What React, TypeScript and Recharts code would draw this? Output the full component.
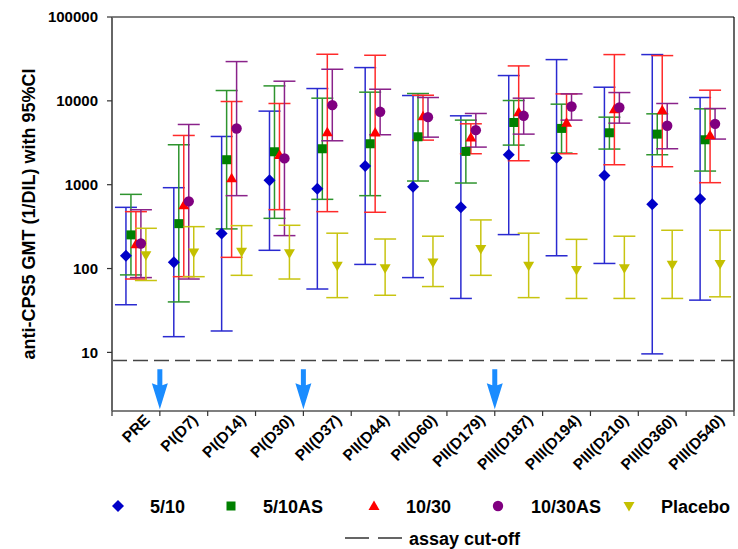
import React from "react";
import { ComposedChart, ErrorBar, ReferenceLine, Scatter, XAxis, YAxis } from "recharts";

const CATEGORIES = ["PRE", "PI(D7)", "PI(D14)", "PI(D30)", "PII(D37)", "PII(D44)", "PII(D60)", "PII(D179)", "PIII(D187)", "PIII(D194)", "PIII(D210)", "PIII(D360)", "PIII(D540)"];

// GMT with lower / upper 95% CI per group
const G510 = [142, 119, 261, 1127, 896, 1668, 947, 537, 2277, 2096, 1291, 583, 675];
const G510_LO = [37, 15.4, 18, 165, 57, 112, 78, 44, 254, 142, 115, 9.6, 42];
const G510_HI = [537, 921, 3760, 7540, 14020, 24930, 11570, 6630, 20030, 31040, 14540, 35630, 10960];

const G510AS = [252, 343, 1985, 2470, 2683, 3078, 3727, 2494, 5520, 4690, 4160, 4010, 3434];
const G510AS_LO = [84, 40, 297, 397, 669, 740, 1106, 1047, 2967, 2382, 2660, 2277, 1454];
const G510AS_HI = [767, 2994, 13280, 15080, 10760, 12690, 12230, 5890, 10090, 9130, 6390, 7000, 8030];

const G1030 = [195, 567, 1190, 2256, 4236, 4200, 6570, 3660, 7330, 5470, 7960, 7740, 3900];
const G1030_LO = [75, 80, 136, 504, 477, 469, 3400, 2340, 1930, 2340, 1730, 1638, 1057];
const G1030_HI = [477, 3866, 9820, 9300, 35950, 34970, 11670, 5325, 26100, 12110, 35630, 34650, 13400];

const G1030AS = [199, 633, 4685, 2058, 8880, 7400, 6390, 4475, 6630, 8560, 8330, 5040, 5320];
const G1030AS_LO = [78, 75, 740, 247, 3340, 3940, 3690, 2808, 4010, 5890, 5420, 2683, 3500];
const G1030AS_HI = [503, 5227, 29400, 17150, 23820, 13760, 10960, 7070, 10760, 12110, 12560, 9300, 8100];

const PLACEBO = [144, 155, 159, 152, 108, 101, 118, 171, 108, 96, 101, 111, 113];
const PLACEBO_LO = [72, 80, 83, 75, 45, 48, 61, 83, 45, 44, 44, 44, 46];
const PLACEBO_HI = [302, 316, 325, 328, 264, 225, 243, 380, 264, 223, 243, 286, 286];

const Y_TICKS = [10, 100, 1000, 10000, 100000];
const CUT_OFF = 8;
const DOSES = [1, 4, 8]; // vaccination given before these visits
const ARROW_TOP = 6.3;

const FONT = '"Liberation Sans", Arial, sans-serif';
const W = 738;
const H = 549;
const LEFT = 112;
const RIGHT = 4;
const HALF = (W - LEFT - RIGHT) / CATEGORIES.length / 2;
const STEP = 5 / 48; // horizontal spread of the groups inside a visit

type Shape = "diamond" | "square" | "triangle" | "circle" | "down";

const SERIES: { name: string; gmt: number[]; lo: number[]; hi: number[]; color: string; bar: string; shape: Shape }[] = [
  { name: "5/10", gmt: G510, lo: G510_LO, hi: G510_HI, color: "#0000c8", bar: "#2a2ad0", shape: "diamond" },
  { name: "5/10AS", gmt: G510AS, lo: G510AS_LO, hi: G510AS_HI, color: "#008000", bar: "#2e942e", shape: "square" },
  { name: "10/30", gmt: G1030, lo: G1030_LO, hi: G1030_HI, color: "#ff0000", bar: "#ff2a2a", shape: "triangle" },
  { name: "10/30AS", gmt: G1030AS, lo: G1030AS_LO, hi: G1030AS_HI, color: "#800080", bar: "#8a228a", shape: "circle" },
  { name: "Placebo", gmt: PLACEBO, lo: PLACEBO_LO, hi: PLACEBO_HI, color: "#c4c000", bar: "#c8c410", shape: "down" },
];

function Marker({ kind, x, y, color }: { kind: Shape; x: number; y: number; color: string }) {
  switch (kind) {
    case "diamond":
      return <polygon points={`${x},${y - 6} ${x + 6},${y} ${x},${y + 6} ${x - 6},${y}`} fill={color} />;
    case "square":
      return <rect x={x - 4.5} y={y - 4.5} width={9} height={9} fill={color} />;
    case "triangle":
      return <polygon points={`${x},${y - 5.5} ${x + 5.5},${y + 4} ${x - 5.5},${y + 4}`} fill={color} />;
    case "circle":
      return <circle cx={x} cy={y} r={5.2} fill={color} />;
    default:
      return <polygon points={`${x - 5.5},${y - 4} ${x + 5.5},${y - 4} ${x},${y + 5.5}`} fill={color} />;
  }
}

function Arrow(props: any) {
  const { cx, cy } = props;
  if (cx == null || cy == null) return <g />;
  const pts = [
    [cx - 2.5, cy], [cx + 2.5, cy], [cx + 2.5, cy + 16], [cx + 8, cy + 14],
    [cx, cy + 40], [cx - 8, cy + 14], [cx - 2.5, cy + 16],
  ].map((p) => p.join(",")).join(" ");
  return <polygon points={pts} fill="#1a8cff" />;
}

function XTick(props: any) {
  const { x, y, payload } = props;
  const label = CATEGORIES[payload.value];
  if (!label) return <g />;
  const ax = x + HALF + 15;
  const ay = y + 3;
  return (
    <text x={ax} y={ay} textAnchor="end" transform={`rotate(-45, ${ax}, ${ay})`}
      style={{ fontFamily: FONT, fontSize: 15.5, fontWeight: "bold" }} fill="#000">
      {label}
    </text>
  );
}

function Legend() {
  const row1 = [
    { i: 0, mx: 118, tx: 150 },
    { i: 1, mx: 231, tx: 263 },
    { i: 2, mx: 374, tx: 406 },
    { i: 3, mx: 498, tx: 531 },
    { i: 4, mx: 629, tx: 661 },
  ];
  const text = { fontFamily: FONT, fontSize: 18, fontWeight: "bold" as const };
  return (
    <svg width={W} height={H} style={{ position: "absolute", left: 0, top: 0, pointerEvents: "none" }}>
      {row1.map(({ i, mx, tx }) => (
        <g key={SERIES[i].name}>
          <Marker kind={SERIES[i].shape} x={mx} y={506} color={SERIES[i].color} />
          <text x={tx} y={512.5} style={text}>{SERIES[i].name}</text>
        </g>
      ))}
      <line x1={345} x2={402} y1={538} y2={538} stroke="#333" strokeWidth={1.5} strokeDasharray="24 9" />
      <text x={409} y={544.5} style={text}>assay cut-off</text>
    </svg>
  );
}

export default function App() {
  const series = SERIES.map((s, k) => ({
    ...s,
    data: s.gmt.map((v, i) => ({ x: i + 0.5 + (k - 2) * STEP, y: v, err: [v - s.lo[i], s.hi[i] - v] })),
  }));
  const arrows = DOSES.map((d) => ({ x: d, y: ARROW_TOP }));
  return (
    <div style={{ position: "absolute", left: 0, top: 0, width: W, height: H, background: "#fff" }}>
      <ComposedChart width={W} height={H} margin={{ top: 17, right: RIGHT, bottom: 0, left: 0 }}>
        <XAxis type="number" dataKey="x" domain={[0, CATEGORIES.length]} ticks={CATEGORIES.map((_, i) => i).concat([CATEGORIES.length])}
          height={138} tick={<XTick />} tickSize={5} interval={0} allowDataOverflow
          axisLine={{ stroke: "#555", strokeWidth: 1.5 }} tickLine={{ stroke: "#333", strokeWidth: 1.2 }} />
        <YAxis type="number" dataKey="y" scale="log" domain={[2, 100000]} ticks={Y_TICKS} allowDataOverflow width={LEFT}
          tickSize={5} tickMargin={9} tickFormatter={(v) => String(v)}
          tick={{ fill: "#000", fontFamily: FONT, fontSize: 15, fontWeight: "bold" }}
          axisLine={{ stroke: "#666", strokeWidth: 2 }} tickLine={{ stroke: "#333", strokeWidth: 1.2 }} />
        <ReferenceLine y={100000} stroke="#000" strokeWidth={1.2} />
        <ReferenceLine x={CATEGORIES.length} stroke="#000" strokeWidth={1.2} />
        <ReferenceLine y={CUT_OFF} stroke="#444" strokeWidth={1.5} strokeDasharray="15 6" />
        {series.map((s) => (
          <Scatter key={s.name} name={s.name} data={s.data} isAnimationActive={false}
            shape={(p: any) => <Marker kind={s.shape} x={p.cx} y={p.cy} color={s.color} />}>
            <ErrorBar dataKey="err" direction="y" width={11} stroke={s.bar} strokeWidth={1.5} isAnimationActive={false} />
          </Scatter>
        ))}
        <Scatter data={arrows} isAnimationActive={false} shape={<Arrow />} />
      </ComposedChart>
      <svg width={50} height={H} style={{ position: "absolute", left: 0, top: 0 }}>
        <text x={0} y={0} transform="translate(29, 214) rotate(-90)" textAnchor="middle" dominantBaseline="central"
          style={{ fontFamily: FONT, fontSize: 18, fontWeight: "bold" }}>
          anti-CPS5 GMT (1/DIL) with 95%CI
        </text>
      </svg>
      <Legend />
    </div>
  );
}
